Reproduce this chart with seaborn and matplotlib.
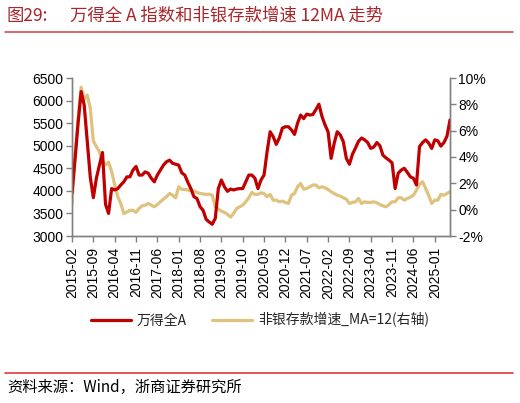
import numpy as np
import pandas as pd
import seaborn as sns
import matplotlib.pyplot as plt
from matplotlib.ticker import FuncFormatter

# Datos (mensual, 2015-02 a 2025-06)
meses = pd.period_range("2015-02", periods=125, freq="M").strftime("%Y-%m").tolist()

wind_a = [3950, 4700, 5500, 6200, 5900, 5100, 4300, 3850, 4280, 4570,
          4850, 3700, 3500, 4050, 4020, 4050, 4130, 4200, 4310, 4310,
          4460, 4540, 4350, 4350, 4420, 4390, 4280, 4200, 4350, 4460,
          4570, 4645, 4680, 4610, 4590, 4570, 4400, 4350, 4190, 4050,
          3870, 3830, 3650, 3570, 3370, 3310, 3260, 3390, 4050, 4240,
          4090, 3990, 4040, 4020, 4040, 4050, 4050, 4200, 4350, 4350,
          4280, 4050, 4240, 4350, 4870, 5310, 5200, 5030, 5170, 5390,
          5420, 5420, 5350, 5250, 5500, 5680, 5600, 5700, 5680, 5690,
          5800, 5920, 5650, 5460, 5310, 4720, 5050, 5310, 5240, 5090,
          4720, 4590, 4810, 4950, 5100, 5170, 5130, 5070, 4940, 4970,
          5070, 5000, 4790, 4730, 4680, 4620, 4050, 4390, 4460, 4500,
          4410, 4310, 4280, 4130, 4980, 5070, 5130, 5060, 4940, 5130,
          5110, 4990, 5070, 5210, 5570]

deposito_ma12 = [0.47, 4.15, 6.95, 9.3, 8.35, 8.7, 7.7, 5.2, 4.8, 4.4,
                 3.7, 3.4, 3.6, 2.9, 1.9, 1.0, 0.47, -0.3, -0.17, -0.05,
                 -0.05, -0.2, 0.09, 0.29, 0.34, 0.47, 0.34, 0.22, 0.39, 0.6,
                 0.8, 0.98, 1.23, 1.1, 0.9, 1.74, 1.54, 1.54, 1.49, 1.44,
                 1.41, 1.31, 1.23, 1.2, 1.16, 1.18, 1.1, 0.22, 0.04, -0.11,
                 -0.2, -0.36, -0.56, -0.29, 0.09, 0.22, 0.34, 0.6, 0.9, 1.31,
                 1.16, 1.16, 1.28, 1.23, 0.98, 1.16, 0.72, 0.72, 0.6, 0.65,
                 0.55, 0.47, 1.1, 1.23, 1.74, 1.99, 1.56, 1.61, 1.74, 1.87,
                 1.87, 1.66, 1.74, 1.66, 1.54, 1.36, 1.23, 1.1, 1.03, 0.9,
                 0.8, 0.47, 0.55, 0.6, 0.85, 0.47, 0.6, 0.55, 0.55, 0.6,
                 0.52, 0.39, 0.29, 0.22, 0.39, 0.6, 0.6, 0.9, 0.9, 0.72,
                 0.85, 0.95, 1.1, 1.49, 1.92, 2.12, 1.61, 1.1, 0.47, 0.72,
                 0.72, 1.16, 1.1, 1.23, 1.36]

titulo_num = "图29:"
titulo = "万得全 A 指数和非银存款增速 12MA 走势"
fuente = "资料来源：Wind，浙商证券研究所"
etiqueta_a = "万得全A"
etiqueta_dep = "非银存款增速_MA=12(右轴)"

rojo = "#C00000"
oro = "#DFC27D"
gris = "#808080"
cjk = ['Noto Sans CJK SC', 'DejaVu Sans']

sns.set_style("white")
plt.rcParams['font.family'] = ['Liberation Sans', 'Noto Sans CJK SC', 'DejaVu Sans']

df = pd.DataFrame({"pos": np.arange(len(meses)), "mes": meses,
                   "wind_a": wind_a, "dep": deposito_ma12})

fig = plt.figure(figsize=(5.2, 4.03), dpi=100)
ax = fig.add_axes([72 / 520, 1 - 236 / 403, (450 - 72) / 520, (236 - 78) / 403])
ax2 = ax.twinx()

sns.lineplot(data=df, x="pos", y="wind_a", ax=ax, color=rojo, linewidth=2.3, label=etiqueta_a, legend=False)
sns.lineplot(data=df, x="pos", y="dep", ax=ax2, color=oro, linewidth=2.3, label=etiqueta_dep, legend=False)
ax.set_zorder(ax2.get_zorder() + 1)
ax.patch.set_visible(False)

ax.set_xlim(0, len(meses) - 1)
ax.set_ylim(3000, 6500)
ax.set_yticks(range(3000, 6501, 500))
ax2.set_ylim(-2, 10)
ax2.set_yticks(range(-2, 11, 2))
ax2.yaxis.set_major_formatter(FuncFormatter(lambda v, p: f"{v:.0f}%"))

pos_ticks = list(range(0, len(meses), 7))
ax.set_xticks(pos_ticks)
ax.set_xticklabels([meses[i] for i in pos_ticks], rotation=90)
ax.set(xlabel=None, ylabel=None)
ax2.set(xlabel=None, ylabel=None)

for a in (ax, ax2):
    a.spines['top'].set_visible(False)
    for s in ('left', 'right', 'bottom'):
        a.spines[s].set_color(gris)
        a.spines[s].set_linewidth(1.0)
    a.tick_params(axis='both', direction='out', length=4, width=1, color=gris,
                  labelsize=10, labelcolor='black', pad=2)
ax.tick_params(axis='x', bottom=True, pad=4)
ax.tick_params(axis='y', left=True)
ax2.tick_params(axis='y', right=True)

h1, l1 = ax.get_legend_handles_labels()
h2, l2 = ax2.get_legend_handles_labels()
fig.legend(h1 + h2, l1 + l2, loc='center', bbox_to_anchor=(0.5, 1 - 320 / 403),
           ncol=2, frameon=False, handlelength=2.9, columnspacing=1.8, handletextpad=0.4,
           prop={'family': cjk, 'size': 10})

# Titulo y fuente
fig.text(7 / 520, 1 - 16 / 403, titulo_num, color="#A8262B", fontsize=12.5, va='center', family=cjk)
fig.text(70 / 520, 1 - 16 / 403, titulo, color="#A8262B", fontsize=12.5, va='center', family=cjk)
fig.add_artist(plt.Line2D([5 / 520, 513 / 520], [1 - 31.5 / 403] * 2, color="#D05050", linewidth=1.2))
fig.add_artist(plt.Line2D([5 / 520, 513 / 520], [1 - 372.5 / 403] * 2, color="#E03A3A", linewidth=1.2))
fig.text(7 / 520, 1 - 387 / 403, fuente, color="black", fontsize=11, va='center', family=cjk)

fig.savefig("out.png", dpi=100)
